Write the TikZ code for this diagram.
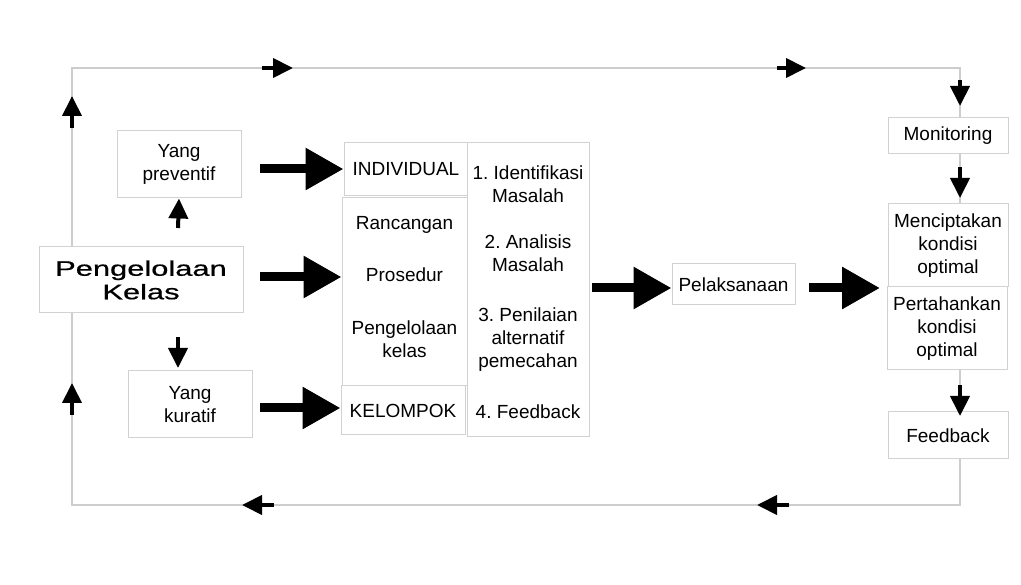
\documentclass[tikz,border=0pt]{standalone}
\usepackage{fontspec}
\setmainfont{Liberation Sans}
\newfontfamily\widefont[FakeStretch=1.47,FakeBold=0.6]{Liberation Sans}
\usetikzlibrary{arrows.meta}
\definecolor{boxgray}{RGB}{210,210,210}
\definecolor{linegray}{RGB}{205,205,205}
\frenchspacing
\begin{document}
\begin{tikzpicture}[x=1pt,y=-1pt,
  box/.style={draw=boxgray,line width=1pt,fill=white,inner sep=0pt,align=center,
    font=\fontsize{19}{23}\selectfont},
  txt/.style={inner sep=0pt,align=center,font=\fontsize{19}{23}\selectfont},
  loopline/.style={draw=linegray,line width=1.2pt},
  small/.style={line width=4pt,-{Triangle[length=20pt,width=19pt]}},
  big/.style={line width=9pt,-{Triangle[length=38pt,width=40pt]}}]
\useasboundingbox (0,0) rectangle (1021,585);
% loop coordinates
\coordinate (tl) at (72,68);
\coordinate (tr) at (960,68);
\coordinate (bl) at (72,505);
\coordinate (br) at (960,505);
\draw[loopline] (960,459) -- (br) -- (bl) -- (tl) -- (tr) -- (960,117);
\draw[loopline] (960,153) -- (960,204);
\draw[loopline] (960,370) -- (960,412);
% boxes
\node[box,minimum width=124pt,minimum height=67pt] (prev) at (179,164.5) {Yang\\preventif};
\node[box,minimum width=204pt,minimum height=66pt,font=\widefont\fontsize{21}{23.5}\selectfont] (pk) at (141,280) {Pengelolaan\\Kelas};
\node[box,minimum width=124pt,minimum height=67pt] (kur) at (190,404.5) {Yang\\kuratif};
\node[box,minimum width=124pt,minimum height=53pt] (ind) at (406,169.5) {INDIVIDUAL};
\node[box,minimum width=125pt,minimum height=188pt] (ran) at (404.5,292) {};
\node[box,minimum width=124pt,minimum height=49pt] (kel) at (403,410.5) {KELOMPOK};
\node[box,minimum width=122pt,minimum height=294pt] (steps) at (528,290) {};
\node[box,minimum width=123pt,minimum height=41pt] (pel) at (733.5,284.5) {Pelaksanaan};
\node[box,minimum width=120pt,minimum height=36pt] (mon) at (948,136) {Monitoring};
\node[box,minimum width=120pt,minimum height=83pt] (men) at (948,245.5) {Menciptakan\\kondisi\\optimal};
\node[box,minimum width=120pt,minimum height=83pt] (per) at (947,328.5) {Pertahankan\\kondisi\\optimal};
\node[box,minimum width=120pt,minimum height=47pt] (fb) at (948,435.5) {Feedback};
% texts in the tall boxes
\node[txt] (r1) at (404.5,225) {Rancangan};
\node[txt] (r2) at (404.5,275) {Prosedur};
\node[txt] (r3) at (404.5,339) {Pengelolaan\\kelas};
\node[txt] (s1) at (528,184) {1. Identifikasi\\Masalah};
\node[txt] (s2) at (528,253) {2. Analisis\\Masalah};
\node[txt] (s3) at (528,340) {3. Penilaian\\alternatif\\pemecahan};
\node[txt] (s4) at (528,412) {4. Feedback};
% big arrows
\draw[big] (260,169) -- (ind.west |- 0,169);
\draw[big] (260,277) -- (ran.west |- 0,277);
\draw[big] (260,408) -- (kel.west |- 0,408);
\draw[big] (592,288) -- (pel.west |- 0,288);
\draw[big] (809,288) -- (880,288);
% small arrow markers
\draw[small] (262,68) -- (293,68);
\draw[small] (777,68) -- (806,68);
\draw[small] (960,80) -- (960,106);
\draw[small] (960,167) -- (960,198);
\draw[small] (960,385) -- (960,416);
\draw[small] (789,505) -- (757,505);
\draw[small] (274,505) -- (242,505);
\draw[small] (72,128) -- (72,96);
\draw[small] (72,415) -- (72,383);
\draw[small] (178,228) -- (prev.south);
\draw[small] (178,337) -- (178,368);
\end{tikzpicture}
\end{document}
